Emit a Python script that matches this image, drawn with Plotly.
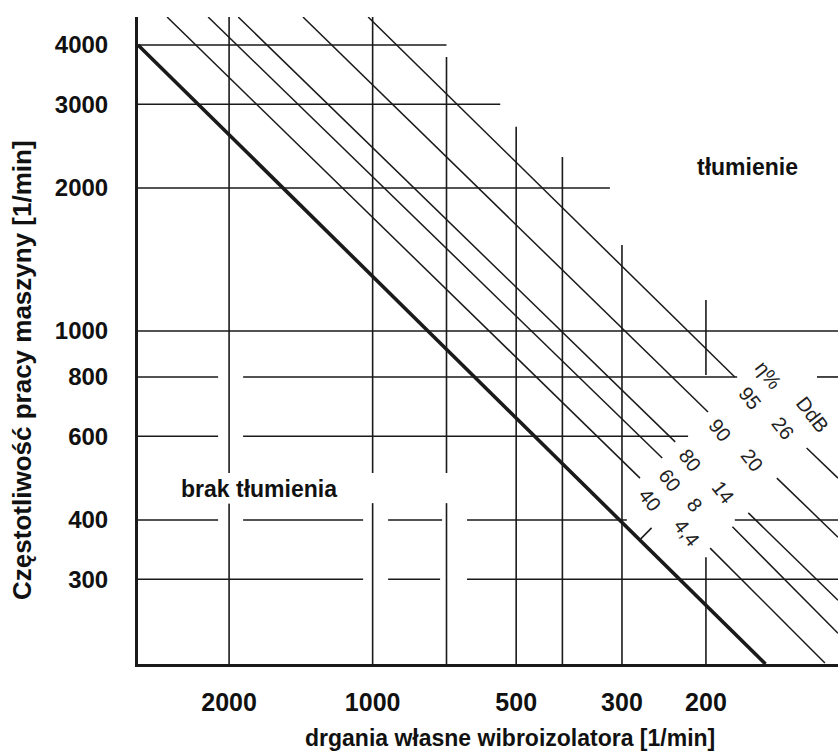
import math
import plotly.graph_objects as go

# ---------------- data ----------------
x_tick_vals = [2000, 1000, 500, 300, 200]
x_tick_text = ["2000", "1000", "500", "300", "200"]
y_tick_vals = [4000, 3000, 2000, 1000, 800, 600, 400, 300]
y_tick_text = ["4000", "3000", "2000", "1000", "800", "600", "400", "300"]

x_left, x_right = 3105, 105.7      # natural frequency axis (reversed)
y_bottom, y_top = 199, 4580        # machine frequency axis

# boundary line "brak tłumienia" / "tłumienie"
bold_x = [3105, 150]
bold_y = [4000, 199]

# efficiency lines: eta %, attenuation dB
eta_labels = ["40", "60", "80", "90", "95"]
db_labels = ["4,4", "8", "14", "20", "26"]
upper_x = [[2698, 275], [2213, 247], [1914, 232], [1400, 198], [1022, 174]]
upper_y = [[4580, 490], [4580, 540], [4580, 584], [4580, 675], [4580, 800]]
lower_x = [[196, 112.6], [176, 105.7], [163, 105.7], [142, 105.7], [123, 105.7]]
lower_y = [[349, 200], [387, 231], [414, 271], [490, 368], [567, 490]]

# label positions (data units)
eta_lab_x = [262, 238, 216, 187, 161.8]
eta_lab_y = [441, 486, 535, 619, 723]
db_lab_x = [219, 211, 184.2, 160.2, 137.9]
db_lab_y = [376, 430, 458, 535, 625]
head_text = ["η%", "DdB"]
head_x = [148, 119.3]
head_y = [808, 666]

# small tick on boundary line
tick_x = [274, 260]
tick_y = [365, 385]

# horizontal grid lines: y value and x-extents of visible pieces
h_vals = [4000, 3000, 2000, 1000, 800, 600, 400, 300]
h_pieces = [
    [(3105, 700)],
    [(3105, 540)],
    [(3105, 318)],
    [(3105, 105.7)],
    [(3105, 2109), (1869, 172), (117, 105.7)],
    [(3105, 2109), (1869, 218)],
    [(3105, 2109), (1869, 1047), (928, 715), (634, 293), (174, 105.7)],
    [(3105, 1047), (928, 722), (634, 105.7)],
]
# vertical grid lines: x value and y-extents of visible pieces
v_vals = [2000, 1000, 700, 500, 400, 300, 200]
v_pieces = [
    [(4580, 502), (434, 199)],
    [(4580, 502), (434, 199)],
    [(3775, 502), (434, 199)],
    [(2689, 199)],
    [(2324, 199)],
    [(1517, 199)],
    [(1162, 808), (334, 199)],
]

# region labels
region_text = ["tłumienie", "brak tłumienia"]
region_x = [163.3, 1730]
region_y = [2214, 465]

LINE = "#1a1a1a"
FAM = "Liberation Sans, Arial, sans-serif"

fig = go.Figure()

# grid lines
gx, gy = [], []
for yv, pieces in zip(h_vals, h_pieces):
    for a, b in pieces:
        gx += [a, b, None]
        gy += [yv, yv, None]
for xv, pieces in zip(v_vals, v_pieces):
    for a, b in pieces:
        gx += [xv, xv, None]
        gy += [a, b, None]
fig.add_trace(go.Scatter(x=gx, y=gy, mode="lines", line=dict(color=LINE, width=1.6),
                         hoverinfo="skip", showlegend=False))

# efficiency lines
dx, dy = [], []
for ux, uy, lx, ly in zip(upper_x, upper_y, lower_x, lower_y):
    dx += ux + [None] + lx + [None]
    dy += uy + [None] + ly + [None]
dx += tick_x + [None]
dy += tick_y + [None]
fig.add_trace(go.Scatter(x=dx, y=dy, mode="lines", line=dict(color=LINE, width=1.5),
                         hoverinfo="skip", showlegend=False))

# boundary line
fig.add_trace(go.Scatter(x=bold_x, y=bold_y, mode="lines", line=dict(color=LINE, width=3.6),
                         hoverinfo="skip", showlegend=False))

LAB_FONT = dict(family=FAM, size=20, color="#222")
ann = []
for t, x, y in zip(eta_labels + db_labels + head_text,
                   eta_lab_x + db_lab_x + head_x,
                   eta_lab_y + db_lab_y + head_y):
    ann.append(dict(x=math.log10(x), y=math.log10(y), xref="x", yref="y", text=t,
                    showarrow=False, textangle=52, font=LAB_FONT))

for t, x, y in zip(region_text, region_x, region_y):
    ann.append(dict(x=math.log10(x), y=math.log10(y), xref="x", yref="y", text=t,
                    showarrow=False, bgcolor="white",
                    font=dict(family=FAM, size=23, color="#111", weight="bold")))

# axis titles
ann.append(dict(xref="paper", yref="paper", x=-0.1657, y=0.453, text="Częstotliwość pracy maszyny [1/min]",
                textangle=-90, showarrow=False, xanchor="center", yanchor="middle",
                font=dict(family=FAM, size=26, color="#111", weight="bold")))
ann.append(dict(xref="paper", yref="paper", x=0.531, y=-0.115, text="drgania własne wibroizolatora [1/min]",
                showarrow=False, xanchor="center", yanchor="middle",
                font=dict(family=FAM, size=23, color="#111", weight="bold")))

fig.update_layout(
    width=838, height=753,
    margin=dict(l=138, r=0, t=17, b=89),
    paper_bgcolor="white", plot_bgcolor="white",
    annotations=ann,
    xaxis=dict(type="log", range=[math.log10(x_left), math.log10(x_right)],
               showgrid=False, zeroline=False, showline=True, linewidth=3, linecolor=LINE,
               tickvals=x_tick_vals, ticktext=x_tick_text, ticks="", ticklabelstandoff=14,
               tickfont=dict(family=FAM, size=25, color="#111", weight="bold")),
    yaxis=dict(type="log", range=[math.log10(y_bottom), math.log10(y_top)],
               showgrid=False, zeroline=False, showline=True, linewidth=3, linecolor=LINE,
               tickvals=y_tick_vals, ticktext=y_tick_text, ticks="", ticklabelstandoff=22,
               tickfont=dict(family=FAM, size=24, color="#111", weight="bold")),
)

fig.write_html("out.html", config={"displayModeBar": False},
               post_script="document.body.style.margin='0';document.body.style.overflow='hidden';")
